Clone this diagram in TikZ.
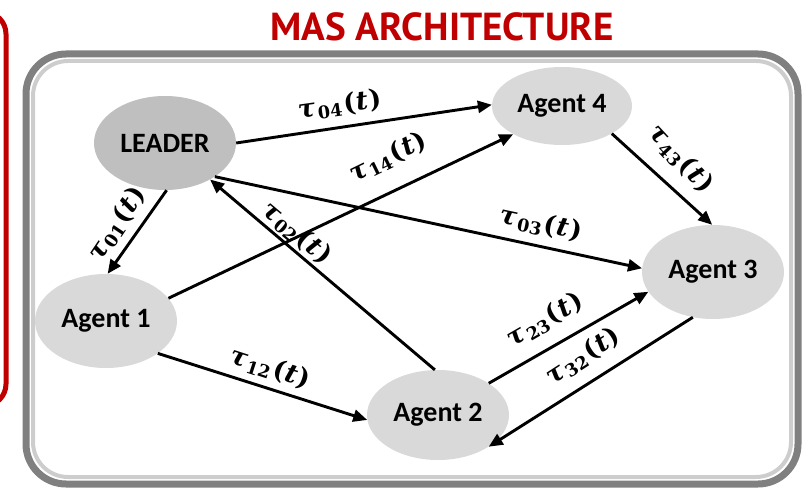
\documentclass[tikz,border=0pt]{standalone}
\usepackage{fontspec}
\usetikzlibrary{arrows.meta,shapes.geometric}
\newfontfamily\agentfont{Carlito}
\newfontfamily\titlefont{PT Sans}
\newfontfamily\labfont{DejaVu Serif}
\definecolor{frameGray}{RGB}{128,128,128}
\definecolor{shadeGray}{RGB}{205,205,205}
\definecolor{titleRed}{RGB}{192,0,0}
\definecolor{agentFill}{RGB}{217,217,217}
\definecolor{leaderFill}{RGB}{191,191,191}
\newcommand{\tlab}[1]{\resizebox{83pt}{19.5pt}{\labfont\bfseries\itshape τ\kern0.05em\raisebox{-0.3ex}{\upshape\fontsize{15}{15}\selectfont #1}\kern0.08em\upshape(\kern0.03em\itshape t\kern0.03em\upshape)}}
\begin{document}
\begin{tikzpicture}[x=1pt,y=-1pt,
  agentnode/.style={ellipse, fill=agentFill, inner sep=0pt,
    minimum width=#1, font=\agentfont\bfseries\fontsize{28}{28}\selectfont},
  agentnode/.default={142pt},
  conn/.style={line width=2.9pt, -{Triangle[length=14pt,width=12pt]}},
  lab/.style={inner sep=0pt, font=\fontsize{22}{22}\selectfont},
  redbox/.style={draw=titleRed, line width=5pt, rounded corners=22pt},
  framebox/.style={draw=frameGray, line width=7pt, rounded corners=40pt},
  innershade/.style={draw=shadeGray, line width=4pt, rounded corners=35pt}]
\useasboundingbox (0,0) rectangle (802,494);
% left red box (cut off)
\draw[redbox] (-80,12) rectangle (6,406);
% frame
\draw[innershade] (33,61) rectangle (791,477);
\draw[framebox] (26,54) rectangle (798,484);
% title
\node[text=titleRed, inner sep=0pt] (title) at (442,27)
  {\resizebox{343pt}{!}{\titlefont\bfseries MAS ARCHITECTURE}};
% nodes
\node[agentnode, fill=leaderFill, minimum height=94pt] (L) at (165,143) {LEADER};
\node[agentnode=140pt, minimum height=78pt] (A4) at (562,106) {Agent 4};
\node[agentnode, minimum height=94pt] (A3) at (713,272) {Agent 3};
\node[agentnode, minimum height=94pt] (A1) at (106,321) {Agent 1};
\node[agentnode, minimum height=90pt] (A2) at (438,415) {Agent 2};
% connectors
\draw[conn] (L.0) -- (A4.179);
\draw[conn] (L.-88) -- (A1.88);
\draw[conn] (L.-34) -- (A3.177);
\draw[conn] (A2.94) -- (L.-39);
\draw[conn] (A1.20) -- (A4.-150);
\draw[conn] (A1.-32) -- (A2.184);
\draw[conn] (A4.-29) -- (A3.91);
\draw[conn] (A2.32) -- (A3.-163);
\draw[conn] (A3.-114) -- (A2.-32);
% labels
\node[lab, rotate=8] (l04) at (340,105) {\tlab{04}};
\node[lab, rotate=26] (l14) at (388,157) {\tlab{14}};
\node[lab, rotate=56] (l01) at (117,224) {\tlab{01}};
\node[lab, rotate=-40] (l02) at (297,233) {\tlab{02}};
\node[lab, rotate=-12] (l03) at (541,224) {\tlab{03}};
\node[lab, rotate=-18] (l12) at (270,368) {\tlab{12}};
\node[lab, rotate=-47] (l43) at (681,159) {\tlab{43}};
\node[lab, rotate=30] (l23) at (545,320) {\tlab{23}};
\node[lab, rotate=33] (l32) at (583,356) {\tlab{32}};
\end{tikzpicture}
\end{document}
